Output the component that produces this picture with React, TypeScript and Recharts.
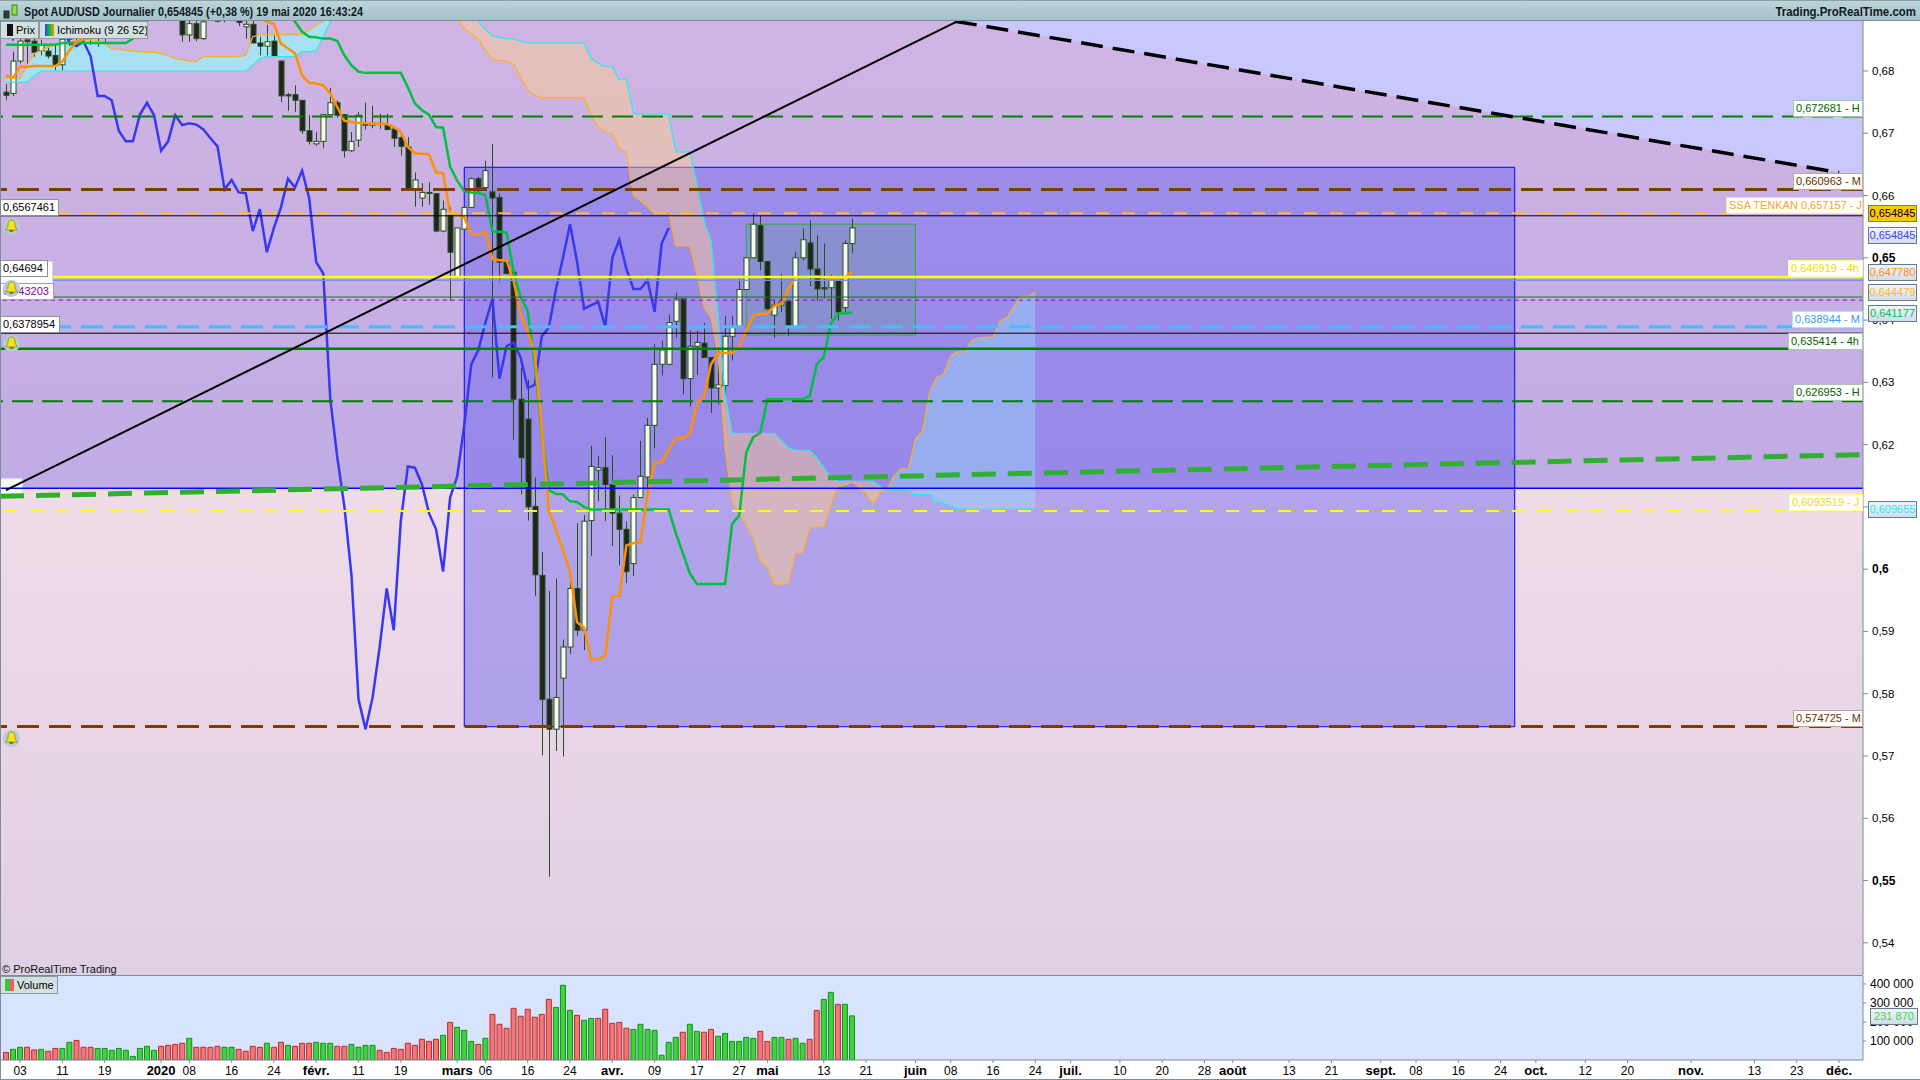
import React from 'react';
import {
  ComposedChart, Bar, Line, Area, XAxis, YAxis, ReferenceArea, ReferenceLine, Cell,
} from 'recharts';

const FONT = '"Liberation Sans", Arial, sans-serif';
const NARROW = '"Liberation Sans Narrow", "Liberation Sans", Arial, sans-serif';

const opens = [
  .6766, .6764, .6816, .6850, .6848, .6833, .6832, .6825, .6810, .6851, .6865, .6872, .6860, .6868, .6858, .6880, .6895, .6905, .6900, .6892,
  .6900, .6910, .6905, .6900, .6895, .6890, .6858, .6876, .6852, .6895, .6885, .6890, .6895, .6885, .6871, .6875, .6845, .6840, .6848, .6816,
  .6762, .6762, .6753, .6704, .6683, .6687, .6730, .6749, .6730, .6672, .6689, .6716, .6713, .6716, .6714, .6707, .6693, .6678, .6610, .6596,
  .6605, .6603, .6543, .6568, .6468, .6546, .6581, .6627, .6613, .6606, .6597, .6493, .6477, .6273, .6241, .6101, .5990, .5791, .5743, .5825,
  .5875, .5969, .5902, .6078, .6159, .6163, .6136, .6090, .6064, .6009, .6115, .6148, .6231, .6329, .6329, .6398, .6434, .6306, .6358, .6363,
  .6340, .6291, .6295, .6374, .6390, .6449, .6500, .6552, .6494, .6408, .6424, .6430, .6389, .6500, .6524, .6482, .6452, .6452, .6466, .6420,
  .6523,
];
const highs = [
  .6779, .6831, .6851, .6851, .6852, .6850, .6839, .6844, .6860, .6872, .6880, .6878, .6875, .6880, .6872, .6900, .6915, .6920, .6910, .6905,
  .6915, .6920, .6918, .6912, .6905, .6895, .6882, .6885, .6888, .6910, .6895, .6900, .6905, .6895, .6885, .6885, .6855, .6874, .6858, .6817,
  .6765, .6777, .6753, .6729, .6702, .6730, .6773, .6753, .6730, .6702, .6734, .6749, .6744, .6731, .6731, .6707, .6702, .6694, .6637, .6620,
  .6621, .6603, .6592, .6581, .6548, .6581, .6629, .6630, .6656, .6683, .6603, .6493, .6477, .6324, .6304, .6147, .6028, .5965, .5985, .5887,
  .5985, .6074, .6087, .6198, .6182, .6212, .6183, .6118, .6077, .6120, .6206, .6243, .6362, .6367, .6409, .6444, .6434, .6383, .6383, .6395,
  .6340, .6351, .6406, .6407, .6466, .6500, .6571, .6567, .6494, .6433, .6474, .6430, .6510, .6547, .6560, .6536, .6523, .6473, .6472, .6528,
  .6563,
];
const lows = [
  .6753, .6760, .6812, .6811, .6823, .6825, .6820, .6801, .6801, .6840, .6848, .6845, .6842, .6839, .6845, .6870, .6885, .6890, .6885, .6882,
  .6890, .6895, .6893, .6888, .6885, .6847, .6847, .6848, .6850, .6885, .6878, .6878, .6885, .6872, .6852, .6845, .6825, .6825, .6824, .6750,
  .6736, .6734, .6699, .6682, .6680, .6676, .6730, .6725, .6661, .6670, .6678, .6706, .6708, .6707, .6705, .6678, .6664, .6608, .6582, .6582,
  .6585, .6541, .6541, .6431, .6468, .6543, .6581, .6603, .6613, .6308, .6461, .6475, .6208, .6120, .6078, .5957, .5701, .5506, .5708, .5699,
  .5864, .5893, .5870, .6021, .6109, .6077, .6037, .6006, .5978, .5989, .6115, .6115, .6194, .6311, .6329, .6372, .6281, .6261, .6312, .6340,
  .6251, .6265, .6279, .6335, .6390, .6449, .6500, .6480, .6416, .6371, .6413, .6375, .6389, .6496, .6454, .6431, .6435, .6402, .6399, .6410,
  .6508,
];
const closes = [
  .6761, .6816, .6848, .6847, .6830, .6842, .6824, .6809, .6851, .6865, .6872, .6860, .6868, .6858, .6866, .6895, .6905, .6900, .6892, .6900,
  .6910, .6905, .6900, .6895, .6890, .6858, .6876, .6852, .6879, .6905, .6880, .6885, .6890, .6878, .6875, .6845, .6840, .6847, .6824, .6760,
  .6760, .6753, .6704, .6687, .6687, .6730, .6749, .6729, .6672, .6687, .6729, .6713, .6716, .6714, .6706, .6692, .6679, .6610, .6625, .6605,
  .6604, .6543, .6578, .6509, .6548, .6581, .6627, .6613, .6640, .6596, .6493, .6475, .6273, .6179, .6100, .5991, .5791, .5743, .5794, .5875,
  .5969, .5902, .6077, .6165, .6163, .6136, .6090, .6064, .5996, .6115, .6149, .6231, .6329, .6352, .6396, .6434, .6306, .6358, .6364, .6340,
  .6291, .6296, .6374, .6388, .6449, .6500, .6554, .6494, .6418, .6424, .6429, .6390, .6500, .6529, .6482, .6450, .6450, .6464, .6413, .6523,
  .6548,
];

const tenkan = [
  .6793, .6789, .6807, .6807, .6808, .6808, .6808, .6808, .6815, .6833, .6847, .6851, .6853, .6856, .6860, .6865, .6870, .6875, .6882, .6888,
  .6890, .6892, .6893, .6893, .6892, .6892, .6892, .6892, .6892, .6892, .6892, .6892, .6892, .6892, .6892, .6892, .6885, .6879, .6876, .6844,
  .6836, .6828, .6793, .6781, .6780, .6777, .6764, .6742, .6720, .6718, .6717, .6716, .6716, .6715, .6715, .6710, .6702, .6678, .6668, .6667,
  .6666, .6637, .6636, .6571, .6570, .6565, .6538, .6537, .6542, .6498, .6496, .6496, .6463, .6407, .6383, .6345, .6224, .6095, .6063, .6031,
  .5996, .5915, .5906, .5855, .5855, .5861, .5956, .5957, .6038, .6042, .6043, .6121, .6171, .6171, .6192, .6210, .6211, .6216, .6267, .6277,
  .6329, .6347, .6347, .6347, .6358, .6383, .6407, .6410, .6410, .6423, .6426, .6450, .6469, .6470, .6470, .6470, .6469, .6466, .6466, .6469,
  .6478,
];
const kijun = [
  .6842, .6842, .6842, .6842, .6842, .6842, .6842, .6842, .6845, .6845, .6845, .6845, .6845, .6845, .6845, .6845, .6845, .6845, .6852, .6870,
  .6895, .6895, .6895, .6895, .6895, .6895, .6895, .6895, .6895, .6895, .6895, .6895, .6895, .6895, .6895, .6895, .6895, .6895, .6895, .6895,
  .6895, .6879, .6863, .6855, .6854, .6852, .6852, .6848, .6825, .6809, .6799, .6797, .6797, .6797, .6797, .6797, .6797, .6774, .6748, .6737,
  .6730, .6710, .6709, .6646, .6624, .6607, .6605, .6604, .6601, .6542, .6542, .6541, .6477, .6437, .6415, .6329, .6217, .6127, .6121, .6120,
  .6109, .6108, .6100, .6096, .6096, .6096, .6096, .6096, .6096, .6096, .6096, .6096, .6096, .6096, .6096, .6058, .6026, .5993, .5976, .5976,
  .5976, .5976, .5976, .6073, .6086, .6188, .6212, .6219, .6273, .6273, .6273, .6273, .6273, .6273, .6278, .6329, .6341, .6394, .6410, .6411,
  .6412,
];
const chikou = [
  .6876, .6852, .6879, .6905, .6880, .6885, .6890, .6878, .6875, .6845, .6840, .6847, .6824, .6760, .6760, .6753, .6704, .6687, .6687, .6730,
  .6749, .6729, .6672, .6687, .6729, .6713, .6716, .6714, .6706, .6692, .6679, .6610, .6625, .6605, .6604, .6543, .6578, .6509, .6548, .6581,
  .6627, .6613, .6640, .6596, .6493, .6475, .6273, .6179, .6100, .5991, .5791, .5743, .5794, .5875, .5969, .5902, .6077, .6165, .6163, .6136,
  .6090, .6064, .5996, .6115, .6149, .6231, .6329, .6352, .6396, .6434, .6306, .6358, .6364, .6340, .6291, .6296, .6374, .6388, .6449, .6500,
  .6554, .6494, .6418, .6424, .6429, .6390, .6500, .6529, .6482, .6450, .6450, .6464, .6413, .6523, .6548,
];
const ssa = [
  .6788, .6788, .6788, .6809, .6828, .6833, .6838, .6842, .6845, .6847, .6848, .6850, .6850, .6848, .6844, .6835, .6835, .6833, .6832, .6831,
  .6830, .6830, .6828, .6825, .6820, .6818, .6816, .6815, .6823, .6823, .6823, .6823, .6823, .6823, .6825, .6855, .6858, .6858, .6858, .6858,
  .6858, .6858, .6858, .6866, .6874, .6879, .6890, .6925, .6925, .6925, .6925, .6925, .6925, .6925, .6925, .6925, .6925, .6925, .6925, .6925,
  .6925, .6925, .6925, .6925, .6882, .6868, .6860, .6851, .6834, .6818, .6817, .6816, .6811, .6790, .6770, .6761, .6757, .6757, .6757, .6757,
  .6757, .6757, .6756, .6729, .6710, .6702, .6699, .6675, .6670, .6600, .6592, .6582, .6571, .6572, .6574, .6519, .6519, .6519, .6474, .6421,
  .6404, .6345, .6196, .6109, .6090, .6071, .6050, .6012, .6003, .5975, .5975, .5978, .6026, .6026, .6067, .6068, .6068, .6103, .6133, .6135,
  .6140, .6132, .6121, .6105, .6124, .6128, .6151, .6161, .6161, .6209, .6222, .6284, .6308, .6313, .6343, .6349, .6349, .6367, .6372, .6372,
  .6373, .6399, .6404, .6423, .6438, .6438, .6445,
];
const ssb = [
  .6782, .6782, .6782, .6782, .6793, .6800, .6800, .6800, .6800, .6800, .6800, .6800, .6800, .6800, .6800, .6800, .6800, .6800, .6800, .6800,
  .6800, .6800, .6800, .6800, .6800, .6800, .6800, .6800, .6800, .6800, .6800, .6800, .6800, .6800, .6800, .6809, .6820, .6823, .6823, .6823,
  .6823, .6823, .6831, .6831, .6833, .6855, .6879, .6930, .6930, .6930, .6930, .6930, .6930, .6930, .6930, .6930, .6930, .6930, .6930, .6930,
  .6930, .6930, .6930, .6930, .6930, .6930, .6930, .6879, .6867, .6856, .6854, .6852, .6851, .6848, .6845, .6845, .6845, .6845, .6845, .6845,
  .6845, .6845, .6844, .6820, .6812, .6807, .6807, .6786, .6786, .6731, .6731, .6731, .6731, .6731, .6731, .6670, .6670, .6670, .6619, .6560,
  .6528, .6410, .6281, .6218, .6218, .6218, .6218, .6218, .6218, .6218, .6206, .6195, .6191, .6191, .6191, .6179, .6163, .6147, .6141, .6141,
  .6141, .6141, .6141, .6141, .6133, .6127, .6127, .6127, .6126, .6120, .6120, .6120, .6108, .6106, .6101, .6096, .6096, .6096, .6096, .6096,
  .6096, .6096, .6096, .6096, .6096, .6097, .6097,
];

const volumes = [
  40, 56, 67, 67, 53, 56, 46, 61, 61, 93, 103, 67, 67, 61, 61, 51, 61, 51, 19, 61,
  72, 51, 72, 77, 82, 88, 114, 67, 67, 67, 72, 67, 67, 56, 46, 72, 67, 88, 67, 93,
  77, 72, 88, 88, 93, 88, 88, 72, 72, 82, 67, 77, 77, 51, 40, 61, 56, 88, 77, 109,
  98, 109, 130, 198, 172, 156, 98, 82, 114, 240, 188, 167, 272, 230, 267, 225, 240, 319, 277, 393,
  261, 235, 209, 219, 219, 267, 193, 198, 167, 161, 188, 161, 156, 25, 93, 119, 146, 188, 151, 146,
  161, 125, 140, 98, 98, 119, 114, 151, 98, 119, 119, 109, 114, 88, 109, 261, 319, 356, 293, 293,
  232,
];
const volumeUp = [
  0, 1, 1, 0, 0, 1, 0, 0, 1, 1, 0, 0, 0, 1, 1, 1, 1, 1, 1, 1,
  1, 1, 0, 0, 0, 0, 1, 0, 0, 0, 0, 1, 1, 0, 0, 0, 0, 1, 0, 0,
  1, 0, 0, 0, 1, 1, 1, 0, 0, 1, 1, 1, 1, 0, 0, 0, 0, 0, 0, 0,
  0, 0, 1, 0, 1, 1, 1, 0, 1, 0, 0, 0, 0, 0, 0, 0, 0, 0, 1, 1,
  1, 0, 1, 1, 0, 0, 0, 0, 0, 1, 1, 1, 1, 1, 1, 1, 0, 1, 1, 0,
  0, 1, 1, 1, 1, 1, 1, 0, 0, 1, 1, 0, 1, 1, 0, 0, 1, 1, 0, 1,
  1,
];

const dateTicks = [
  2, 8, 14, 22, 26, 32, 38, 44, 50, 56, 64, 68, 74, 80, 86, 92, 98, 104, 108, 116, 122, 129, 134, 140, 146, 151, 158, 164, 170, 174,
  182, 188, 195, 200, 206, 212, 217, 224, 230, 239, 248, 254, 260,
];
const dateLabels = [
  '03', '11', '19', '2020', '08', '16', '24', 'févr.', '11', '19', 'mars', '06', '16', '24', 'avr.', '09', '17', '27', 'mai', '13', '21',
  'juin', '08', '16', '24', 'juil.', '10', '20', '28', 'août', '13', '21', 'sept.', '08', '16', '24', 'oct.', '12', '20', 'nov.', '13', '23', 'déc.',
];
const priceTicks = [.54, .55, .56, .57, .58, .59, .6, .61, .62, .63, .64, .65, .66, .67, .68];
const boldPrices = [.55, .6, .65];
const volumeTicks = [100000, 200000, 300000, 400000];

const X_DOMAIN: [number, number] = [-0.85, 263.4];
const Y_DOMAIN: [number, number] = [.53483, .68803];
const V_DOMAIN: [number, number] = [0, 442000];

const priceRows = ssa.map((a, i) => {
  const b = ssb[i];
  const nextUp = i + 1 < ssa.length && ssa[i + 1] >= ssb[i + 1];
  const up = a >= b;
  const showUp = up || nextUp;
  return {
    x: i,
    range: i < opens.length ? [lows[i], highs[i]] : undefined,
    open: opens[i],
    high: highs[i],
    low: lows[i],
    close: closes[i],
    tenkan: tenkan[i],
    kijun: kijun[i],
    chikou: chikou[i],
    ssa: a,
    ssb: b,
    cloudLeft: showUp && i < 60 ? [b, a] : null,
    cloudRight: showUp && i >= 60 ? [b, a] : null,
    cloudDown: !up || !nextUp ? [a, b] : null,
  };
});
const volumeRows = volumes.map((v, i) => ({ x: i, volume: v * 1000, up: volumeUp[i] === 1 }));

const aboveResistance = [
  { x: 134.6, band: [.6880, .6880] },
  { x: 263.4, band: [.6631, .6880] },
];

function Candle(props: any) {
  const { x, y, width, height, payload } = props;
  if (!payload || payload.range === undefined || height === undefined) return null;
  const h = Math.abs(height);
  const top = Math.min(y, y + height);
  const perUnit = h / (payload.high - payload.low);
  const bodyTop = top + (payload.high - Math.max(payload.open, payload.close)) * perUnit;
  const bodyH = Math.max(Math.abs(payload.close - payload.open) * perUnit, 1);
  const mid = Math.round(x + width / 2) + 0.5;
  const white = payload.close >= payload.open;
  return (
    <g>
      <line x1={mid} x2={mid} y1={top} y2={top + h} stroke="#24501c" strokeWidth={1} />
      <rect x={mid - 2.5} y={bodyTop} width={5} height={bodyH} fill={white ? '#f8faf2' : '#1e261d'} stroke="#24501c" strokeWidth={1} />
    </g>
  );
}

function PriceTick(props: any) {
  const { x, y, payload } = props;
  const bold = boldPrices.includes(payload.value);
  return (
    <text x={x + 2} y={y + 4} fontFamily={FONT} fontSize={bold ? 12 : 11.5} fontWeight={bold ? 700 : 400} fill="#000">
      {String(payload.value).replace('.', ',')}
    </text>
  );
}

function VolumeTick(props: any) {
  const { x, y, payload } = props;
  const s = String(payload.value).replace(/000$/, ' 000');
  return (
    <text x={x + 2} y={y + 4} fontFamily={NARROW} fontSize={12} fill="#000">{s}</text>
  );
}

function DateTick(props: any) {
  const { x, y, payload } = props;
  const label = dateLabels[dateTicks.indexOf(payload.value)];
  const bold = !/^\d\d$/.test(label);
  return (
    <text x={x} y={y + 10} textAnchor="middle" fontFamily={NARROW} fontSize={bold ? 13 : 12} fontWeight={bold ? 700 : 400} fill="#000">
      {label}
    </text>
  );
}

function Tag({ left, top, w, h = 17, color, border, bg = '#fff', children, center = false }: any) {
  return (
    <div style={{
      position: 'absolute', left, top, width: w, height: h, boxSizing: 'border-box', background: bg,
      border: `1px solid ${border}`, color, fontFamily: FONT, fontSize: 11, lineHeight: `${h - 2}px`,
      paddingLeft: center ? 0 : 2, textAlign: center ? 'center' : 'left', whiteSpace: 'nowrap', overflow: 'hidden',
    }}>
      {children}
    </div>
  );
}

function Bell({ left, top }: any) {
  return (
    <svg style={{ position: 'absolute', left, top }} width={17} height={17} viewBox="0 0 17 17">
      <circle cx={8.5} cy={8.5} r={8.5} fill="#b4ccd8" />
      <path d="M8.5 2C5.500 2 5 4.500 5 7c0 2-1.200 3.200-2.500 5h12C13.200 10.200 12 9 12 7c0-2.500-.5-5-3.500-5z" fill="#f4e41c" stroke="#8a7a10" strokeWidth={0.7} />
      <rect x={6.6} y={12} width={3.8} height={2} fill="#8a7a10" />
    </svg>
  );
}

const axisBg = 'linear-gradient(#f0f4ff, #d4dcec)';

export default function App() {
  return (
    <div style={{ position: 'absolute', left: 0, top: 0, width: 1920, height: 1080, background: '#fff', overflow: 'hidden' }}>
      <div style={{ position: 'absolute', left: 0, top: 0 }}>
        <ComposedChart width={1920} height={976} data={priceRows} margin={{ top: 21, right: 0, bottom: 1, left: 0 }}>
          <defs>
            <linearGradient id="purpleBg" x1="0" y1="0" x2="0" y2="1">
              <stop offset="0%" stopColor="#d0b4e4" />
              <stop offset="100%" stopColor="#c0ace4" />
            </linearGradient>
            <linearGradient id="pinkBg" x1="0" y1="0" x2="0" y2="1">
              <stop offset="0%" stopColor="#f0dce8" />
              <stop offset="100%" stopColor="#e0d0e4" />
            </linearGradient>
          </defs>
          <XAxis dataKey="x" type="number" domain={X_DOMAIN} allowDataOverflow hide />
          <YAxis
            orientation="right" width={57} domain={Y_DOMAIN} allowDataOverflow ticks={priceTicks} interval={0}
            stroke="#7c8c98" tickSize={5} tick={<PriceTick />}
          />
          <ReferenceArea x1={X_DOMAIN[0]} x2={X_DOMAIN[1]} y1={.6130} y2={Y_DOMAIN[1]} fill="url(#purpleBg)" fillOpacity={1} stroke="none" />
          <ReferenceArea x1={X_DOMAIN[0]} x2={X_DOMAIN[1]} y1={Y_DOMAIN[0]} y2={.6130} fill="url(#pinkBg)" fillOpacity={1} stroke="none" />
          <ReferenceArea x1={65} x2={214} y1={.5747} y2={.66454} fill="rgb(100,90,240)" fillOpacity={0.44} stroke="#0000ff" strokeWidth={1} />
          <ReferenceArea x1={X_DOMAIN[0]} x2={2.3} y1={.6117} y2={.6145} fill="#f4fff0" fillOpacity={1} stroke="#d8ecd0" />
          <Area data={aboveResistance} dataKey="band" type="linear" fill="#c8c8ff" fillOpacity={1} stroke="none" isAnimationActive={false} dot={false} activeDot={false} />
          <Area dataKey="cloudLeft" type="linear" fill="#90ffff" fillOpacity={0.6} stroke="none" isAnimationActive={false} dot={false} activeDot={false} />
          <Area dataKey="cloudRight" type="linear" fill="rgb(150,255,255)" fillOpacity={0.31} stroke="none" isAnimationActive={false} dot={false} activeDot={false} />
          <Area dataKey="cloudDown" type="linear" fill="rgb(254,207,139)" fillOpacity={0.45} stroke="none" isAnimationActive={false} dot={false} activeDot={false} />
          <ReferenceArea x1={105} x2={129} y1={.6376} y2={.6554} fill="rgb(110,150,170)" fillOpacity={0.4} stroke="#30b030" strokeWidth={1} />
          <Bar dataKey="range" barSize={5} shape={<Candle />} isAnimationActive={false} />
          <Line dataKey="ssa" stroke="#ffb020" strokeWidth={1.2} dot={false} activeDot={false} isAnimationActive={false} />
          <Line dataKey="ssb" stroke="#20f0f0" strokeWidth={1.2} dot={false} activeDot={false} isAnimationActive={false} />
          <Line dataKey="chikou" stroke="#3838f0" strokeWidth={2.5} dot={false} activeDot={false} isAnimationActive={false} />
          <Line dataKey="kijun" stroke="#00c040" strokeWidth={2.5} dot={false} activeDot={false} isAnimationActive={false} />
          <Line dataKey="tenkan" stroke="#ff9000" strokeWidth={2.5} dot={false} activeDot={false} isAnimationActive={false} />
          <ReferenceLine y={.672681} stroke="#008000" strokeWidth={2} strokeDasharray="21 9" />
          <ReferenceLine y={.660963} stroke="#803c00" strokeWidth={3} strokeDasharray="22 10" />
          <ReferenceLine y={.657157} stroke="#ffb83c" strokeWidth={2} strokeDasharray="13 13" />
          <ReferenceLine y={.6567461} stroke="#000" strokeWidth={1} />
          <ReferenceLine y={.6464} stroke="#7090ff" strokeWidth={1.5} />
          <ReferenceLine y={.646919} stroke="#ffff00" strokeWidth={2.5} />
          <ReferenceLine y={.6437} stroke="#207020" strokeWidth={1} />
          <ReferenceLine y={.643203} stroke="#a000c0" strokeWidth={1} strokeDasharray="4 4" />
          <ReferenceLine y={.638944} stroke="#40c0ff" strokeWidth={3} strokeDasharray="22 10" />
          <ReferenceLine y={.6378954} stroke="#000" strokeWidth={1} />
          <ReferenceLine y={.635414} stroke="#008000" strokeWidth={2.5} />
          <ReferenceLine y={.626953} stroke="#008000" strokeWidth={2} strokeDasharray="21 9" />
          <ReferenceLine y={.6130} stroke="#0000ff" strokeWidth={1.5} />
          <ReferenceLine y={.6093519} stroke="#ffff00" strokeWidth={2} strokeDasharray="13 13" />
          <ReferenceLine y={.574725} stroke="#803c00" strokeWidth={3} strokeDasharray="22 10" />
          <ReferenceLine segment={[{ x: X_DOMAIN[0], y: .6117 }, { x: X_DOMAIN[1], y: .6184 }]} stroke="#30b030" strokeWidth={5} strokeDasharray="24 12" />
          <ReferenceLine segment={[{ x: 0, y: .6127 }, { x: 135, y: .6880 }]} stroke="#000" strokeWidth={2} />
          <ReferenceLine segment={[{ x: 134.6, y: .6880 }, { x: 260, y: .6637 }]} stroke="#000" strokeWidth={3.5} strokeDasharray="22 10" />
        </ComposedChart>
      </div>

      <div style={{ position: 'absolute', left: 0, top: 976 }}>
        <ComposedChart width={1920} height={104} data={volumeRows} margin={{ top: 0, right: 0, bottom: 0, left: 0 }}>
          <ReferenceArea x1={X_DOMAIN[0]} x2={X_DOMAIN[1]} y1={V_DOMAIN[0]} y2={V_DOMAIN[1]} fill="#d8e4ff" fillOpacity={1} stroke="none" />
          <XAxis
            dataKey="x" type="number" domain={X_DOMAIN} allowDataOverflow ticks={dateTicks} interval={0} height={20}
            stroke="#7c8c98" tickSize={3} tick={<DateTick />}
          />
          <YAxis
            orientation="right" width={57} domain={V_DOMAIN} allowDataOverflow ticks={volumeTicks} interval={0}
            stroke="#7c8c98" tickSize={3} tick={<VolumeTick />}
          />
          <Bar dataKey="volume" barSize={5} isAnimationActive={false}>
            {volumeRows.map((r) => (
              <Cell key={r.x} fill={r.up ? '#44d044' : '#f07878'} stroke={r.up ? '#109010' : '#c02828'} />
            ))}
          </Bar>
        </ComposedChart>
      </div>

      {/* title bar */}
      <div style={{
        position: 'absolute', left: 0, top: 0, width: 1920, height: 21, boxSizing: 'border-box', background: 'linear-gradient(#bcd4da, #a4c2ca)',
        borderTop: '1px solid #8aa0a8', borderBottom: '1px solid #7c8c98', fontFamily: FONT, fontSize: 12, fontWeight: 700, color: '#101820', lineHeight: '19px',
      }}>
        <svg style={{ position: 'absolute', left: 3, top: 2 }} width={16} height={16} viewBox="0 0 16 16">
          <rect x={1} y={8} width={5} height={7} fill="#303830" stroke="#203020" />
          <rect x={9} y={2} width={5} height={10} fill="#90e040" stroke="#408020" />
        </svg>
        <span style={{ position: 'absolute', left: 24, top: 2, whiteSpace: 'nowrap', transform: 'scaleX(0.9)', transformOrigin: 'left top' }}>Spot AUD/USD Journalier 0,654845 (+0,38 %) 19 mai 2020 16:43:24</span>
        <span style={{ position: 'absolute', right: 4, top: 2, whiteSpace: 'nowrap', transform: 'scaleX(0.95)', transformOrigin: 'right top' }}>Trading.ProRealTime.com</span>
      </div>

      {/* indicator legend */}
      <Tag left={0} top={21} w={39} h={18} color="#000" border="#8a9aa4" bg="#d4e0e0"><span style={{ display: 'inline-block', width: 6, height: 12, background: '#111', margin: '0 3px 0 4px', verticalAlign: -2 }} />Prix</Tag>
      <Tag left={39} top={21} w={109} h={18} color="#000" border="#8a9aa4" bg="#d4e0e0"><span style={{ display: 'inline-block', width: 9, height: 12, background: 'linear-gradient(90deg,#3838f0,#00c040,#ff9000)', margin: '0 3px 0 3px', verticalAlign: -2 }} />Ichimoku (9 26 52)</Tag>

      {/* alert tags on the left */}
      <Tag left={0} top={261} w={53} h={39} color="#000" border="#c8d8f0" />
      <Tag left={0} top={199} w={59} color="#000" border="#909090">0,6567461</Tag>
      <Tag left={0} top={260} w={48} color="#000" border="#909090">0,64694</Tag>
      <Tag left={0} top={283} w={54} color="#8000b0" border="#b090d0">0,643203</Tag>
      <Tag left={0} top={316} w={60} color="#000" border="#909090">0,6378954</Tag>
      <Bell left={3} top={218} />
      <Bell left={3} top={280} />
      <Bell left={3} top={335} />
      <Bell left={3} top={730} />

      {/* level tags on the right */}
      <Tag left={1793} top={100} w={70} color="#006000" border="#a8c8a8">0,672681 - H</Tag>
      <Tag left={1793} top={173} w={70} color="#6a3000" border="#c0a890">0,660963 - M</Tag>
      <Tag left={1726} top={197} w={137} color="#f0a830" border="#ffe0a0">SSA TENKAN 0,657157 - J</Tag>
      <Tag left={1788} top={260} w={75} color="#e8e000" border="#ffffa0">0,646919 - 4h</Tag>
      <Tag left={1792} top={311} w={71} color="#30a0f0" border="#b0e0ff">0,638944 - M</Tag>
      <Tag left={1788} top={333} w={75} color="#006000" border="#a8c8a8">0,635414 - 4h</Tag>
      <Tag left={1793} top={384} w={70} color="#006000" border="#a8c8a8">0,626953 - H</Tag>
      <Tag left={1789} top={494} w={74} color="#e8e000" border="#ffffa0">0,6093519 - J</Tag>
      <Tag left={1793} top={710} w={70} color="#6a3000" border="#c0a890">0,574725 - M</Tag>

      {/* last value boxes on the axis */}
      <Tag left={1868} top={205} w={49} color="#000" border="#6a7a88" bg="#ffc800" center>0,654845</Tag>
      <Tag left={1868} top={227} w={49} color="#4040ff" border="#6a7a88" bg={axisBg} center>0,654845</Tag>
      <Tag left={1868} top={264} w={49} color="#ff9000" border="#6a7a88" bg={axisBg} center>0,647780</Tag>
      <Tag left={1868} top={284} w={49} color="#ffc000" border="#6a7a88" bg={axisBg} center>0,644479</Tag>
      <Tag left={1868} top={305} w={49} color="#00c040" border="#6a7a88" bg={axisBg} center>0,641177</Tag>
      <Tag left={1868} top={501} w={49} color="#20f0f0" border="#6a7a88" bg={axisBg} center>0,609655</Tag>
      <Tag left={1870} top={1008} w={48} color="#40d840" border="#6a7a88" bg={axisBg} center>231 870</Tag>

      <div style={{ position: 'absolute', left: 2, top: 963, fontFamily: FONT, fontSize: 11, color: '#101010', whiteSpace: 'nowrap' }}>© ProRealTime Trading</div>
      <Tag left={0} top={976} w={58} h={18} color="#000" border="#8a9aa4" bg="#d4e0e0"><span style={{ display: 'inline-block', width: 9, height: 12, background: 'linear-gradient(90deg,#40c040 50%,#f06060 50%)', margin: '0 3px 0 2px', verticalAlign: -2 }} />Volume</Tag>
      <div style={{ position: 'absolute', left: 0, top: 975, width: 1863, height: 1, background: '#7c8c98' }} />
      <div style={{ position: 'absolute', left: 0, top: 21, width: 1, height: 1058, background: '#7c8c98' }} />
      <div style={{ position: 'absolute', left: 0, top: 1079, width: 1920, height: 1, background: '#7c8c98' }} />
    </div>
  );
}
